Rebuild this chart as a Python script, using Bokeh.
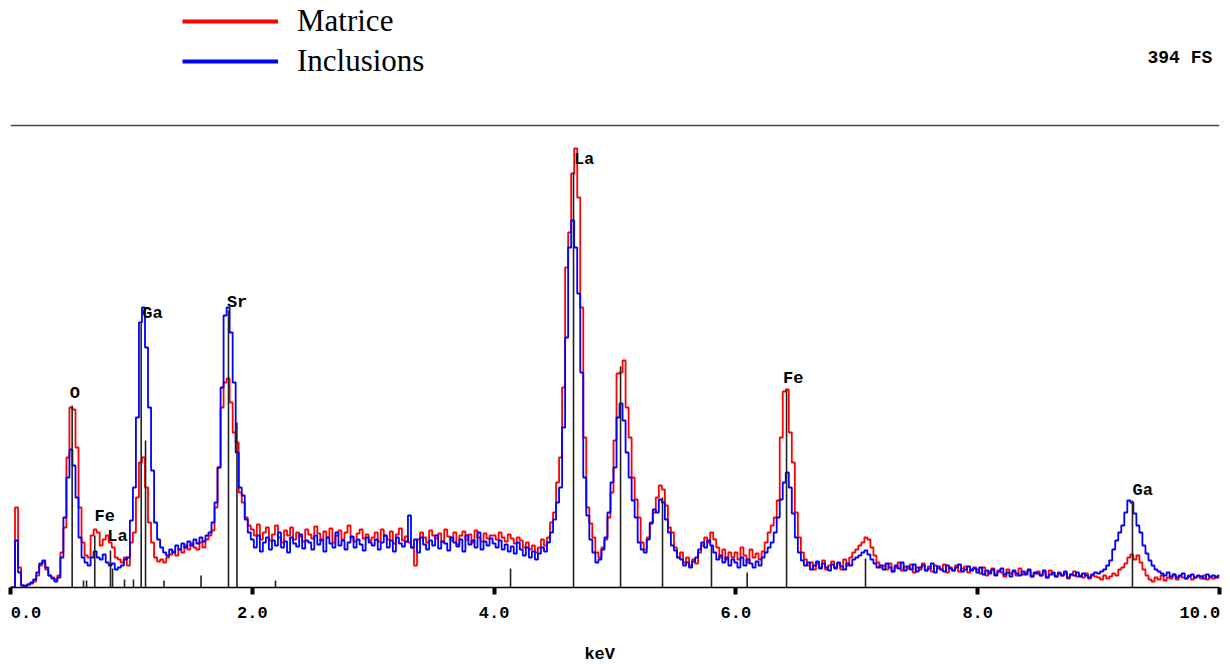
import numpy as np
from bokeh.plotting import figure
from bokeh.models import (Legend, LegendItem, FixedTicker, Label, Range1d, Span)
from bokeh.core.properties import value
from bokeh.embed import file_html
from bokeh.resources import INLINE

# ---------------- data ----------------
channel_width_kev = 0.025
energy_kev = np.round(np.arange(401) * channel_width_kev, 3)   # 0.0 ... 10.0 keV

matrice_counts = [
    0, 0, 80, 20, 2, 2, 3, 4, 6, 12, 22, 25, 18, 12, 10, 8, 12, 35, 60, 130,
    180, 178, 140, 80, 45, 32, 30, 52, 58, 55, 42, 48, 52, 45, 40, 30, 28, 25, 30, 22,
    45, 55, 90, 125, 130, 100, 65, 45, 30, 26, 28, 25, 30, 33, 36, 32, 38, 35, 42, 38,
    44, 40, 38, 45, 40, 48, 52, 57, 80, 120, 180, 205, 209, 185, 155, 145, 95, 85, 70, 62,
    58, 52, 63, 48, 55, 60, 47, 53, 62, 50, 45, 57, 52, 60, 48, 55, 51, 46, 58, 53,
    49, 61, 54, 47, 56, 50, 59, 45, 52, 57, 48, 55, 62, 50, 46, 54, 58, 49, 53, 47,
    50, 55, 46, 58, 52, 48, 56, 44, 53, 59, 47, 51, 45, 40, 22, 48, 55, 50, 45, 57,
    52, 49, 54, 46, 58, 51, 47, 55, 43, 52, 56, 48, 53, 45, 57, 50, 46, 54, 49, 52,
    52, 48, 55, 50, 46, 53, 49, 44, 50, 47, 40, 45, 38, 42, 35, 40, 48, 42, 50, 65,
    75, 105, 130, 200, 320, 355, 414, 439, 390, 280, 150, 80, 64, 50, 35, 30, 40, 48, 70, 95,
    147, 214, 215, 227, 180, 150, 110, 88, 70, 45, 38, 50, 65, 75, 90, 102, 98, 82, 60, 55,
    40, 30, 35, 25, 30, 22, 28, 24, 35, 42, 50, 45, 55, 48, 40, 30, 38, 28, 35, 30,
    35, 28, 40, 32, 25, 38, 30, 34, 28, 36, 45, 55, 62, 70, 87, 150, 196, 198, 155, 125,
    75, 50, 35, 28, 22, 25, 18, 24, 20, 27, 18, 22, 26, 20, 24, 18, 28, 22, 30, 35,
    38, 42, 45, 50, 48, 40, 32, 25, 20, 22, 18, 24, 16, 20, 25, 17, 21, 19, 23, 15,
    20, 18, 24, 17, 21, 16, 22, 19, 18, 23, 15, 20, 17, 22, 16, 19, 21, 15, 18, 20,
    18, 14, 20, 12, 16, 19, 13, 17, 15, 11, 18, 14, 16, 12, 19, 13, 15, 17, 11, 14,
    16, 12, 15, 10, 17, 13, 11, 15, 12, 14, 9, 13, 16, 11, 12, 10, 14, 9, 12, 11,
    10, 8, 12, 9, 11, 14, 12, 18, 20, 24, 30, 33, 28, 32, 25, 18, 12, 8, 6, 10,
    8, 12, 7, 10, 9, 13, 8, 11, 10, 9, 12, 8, 10, 11, 9, 12, 8, 10, 9, 11,
    10,
]

inclusions_counts = [
    0, 0, 47, 15, 2, 1, 3, 5, 8, 15, 24, 27, 20, 12, 9, 6, 10, 30, 70, 110,
    138, 122, 90, 50, 30, 25, 22, 30, 36, 30, 28, 33, 25, 22, 24, 18, 20, 22, 28, 30,
    67, 100, 170, 265, 280, 240, 180, 117, 65, 48, 40, 35, 32, 38, 35, 42, 38, 44, 40, 46,
    42, 48, 44, 50, 46, 52, 55, 65, 85, 120, 200, 272, 280, 255, 205, 135, 100, 92, 68, 55,
    48, 40, 52, 36, 45, 50, 38, 47, 42, 55, 40, 46, 35, 50, 44, 41, 53, 39, 47, 45,
    38, 52, 43, 48, 36, 50, 44, 40, 55, 42, 47, 38, 45, 51, 40, 48, 43, 37, 50, 45,
    42, 48, 38, 45, 52, 40, 47, 36, 50, 44, 41, 46, 72, 40, 48, 35, 50, 43, 38, 47,
    42, 52, 39, 46, 44, 37, 50, 45, 41, 48, 36, 52, 43, 47, 40, 55, 38, 46, 42, 49,
    44, 40, 47, 38, 43, 36, 41, 34, 45, 38, 32, 40, 30, 36, 28, 34, 40, 36, 45, 55,
    68, 85, 100, 160, 250, 340, 367, 340, 294, 215, 110, 72, 48, 35, 25, 28, 38, 50, 75, 105,
    120, 170, 184, 167, 135, 110, 87, 70, 45, 38, 35, 48, 64, 78, 75, 88, 85, 68, 55, 42,
    37, 30, 28, 22, 25, 20, 26, 30, 38, 45, 40, 47, 42, 35, 28, 32, 25, 30, 22, 28,
    25, 20, 30, 22, 28, 24, 20, 26, 22, 30, 35, 40, 45, 55, 70, 88, 105, 115, 100, 74,
    50, 35, 27, 22, 25, 18, 22, 26, 19, 24, 20, 17, 23, 19, 25, 21, 18, 24, 22, 28,
    30, 32, 35, 37, 33, 28, 24, 20, 22, 18, 24, 20, 16, 22, 19, 25, 17, 21, 18, 23,
    16, 20, 22, 17, 19, 24, 15, 21, 18, 16, 22, 19, 17, 20, 23, 16, 18, 21, 17, 19,
    15, 20, 13, 17, 14, 18, 12, 16, 19, 13, 15, 11, 17, 14, 12, 16, 13, 18, 11, 15,
    14, 12, 17, 10, 13, 15, 11, 14, 12, 16, 10, 13, 12, 15, 11, 14, 12, 10, 13, 15,
    14, 16, 18, 22, 27, 38, 47, 55, 62, 75, 87, 85, 74, 62, 55, 42, 34, 27, 22, 18,
    16, 14, 12, 15, 11, 13, 10, 12, 14, 9, 11, 13, 10, 12, 11, 9, 13, 11, 12, 10,
    12,
]

# element marker lines (keV, height)
marker_kev = [0.510, 0.604, 0.629, 0.697, 0.827, 0.844, 0.943, 1.017, 1.081, 1.117,
              1.270, 1.576, 1.803, 1.873, 2.192, 4.136, 4.657, 5.046, 5.393, 5.798,
              6.093, 6.419, 7.072, 9.280]
marker_height = [182, 7, 7, 52, 37, 19, 8, 8, 264, 147,
                 7, 12, 277, 165, 7, 19, 415, 221, 90, 42,
                 15, 198, 29, 87]

# element labels
element_labels = ["O", "Fe", "La", "Ga", "Sr", "La", "Fe", "Ga"]
element_label_kev = [0.49, 0.695, 0.80, 1.09, 1.79, 4.66, 6.39, 9.28]
element_label_height = [194, 71, 51, 274, 285, 428, 209, 97]

tick_kev = [0, 2, 4, 6, 8, 10]
tick_labels = ["0.0", "2.0", "4.0", "6.0", "8.0", "10.0"]

series_names = ["Matrice", "Inclusions"]
full_scale_text = "394 FS"
full_scale_height = 530      # position of the "394 FS" readout
header_line_height = 462     # top rule of the spectrum window

# ---------------- figure ----------------
p = figure(frame_width=1209, frame_height=587,
           x_range=Range1d(0, 10), y_range=Range1d(0, 587),
           output_backend="svg", toolbar_location=None,
           y_axis_location=None,
           min_border_left=10, min_border_right=11,
           min_border_top=0, min_border_bottom=0)
p.grid.visible = False
p.outline_line_color = None
p.background_fill_color = "white"
p.border_fill_color = "white"

mono = value("Liberation Mono")

xa = p.xaxis[0]
xa.ticker = FixedTicker(ticks=tick_kev)
overrides = {t: lab for t, lab in zip(tick_kev, tick_labels)}
overrides[tick_kev[0]] = "\u00a0" + tick_labels[0]
overrides[tick_kev[-1]] = tick_labels[-1] + "\u00a0"
xa.major_label_overrides = overrides
xa.axis_line_color = "black"
xa.axis_line_width = 1.5
xa.major_tick_in = 0
xa.major_tick_out = 7
xa.major_tick_line_width = 4
xa.major_tick_line_color = "black"
xa.minor_tick_out = 0
xa.minor_tick_in = 0
xa.major_label_text_font = "Liberation Mono"
xa.major_label_text_font_style = "bold"
xa.major_label_text_font_size = "17px"
xa.major_label_text_color = "black"
xa.major_label_standoff = 9
xa.axis_label = "keV\u00a0\u00a0\u00a0"
xa.axis_label_text_font = "Liberation Mono"
xa.axis_label_text_font_style = "bold"
xa.axis_label_text_font_size = "17px"
xa.axis_label_text_color = "black"
xa.axis_label_standoff = 19

p.add_layout(Span(location=header_line_height, dimension="width",
                  line_color="#444444", line_width=1.5))

red = p.step(energy_kev, matrice_counts, mode="center", color="#ff0000", line_width=1.8)
blue = p.step(energy_kev, inclusions_counts, mode="center", color="#0000ff", line_width=1.8)

p.segment(x0=marker_kev, y0=[0] * len(marker_kev), x1=marker_kev, y1=marker_height,
          color="#222222", line_width=1.6)

p.text(x=element_label_kev, y=element_label_height, text=element_labels,
       text_font=mono, text_font_style="bold", text_font_size="17px",
       text_align="left", text_baseline="middle", text_color="black")

p.add_layout(Label(x=9.94, y=full_scale_height, text=full_scale_text, text_align="right",
                   text_baseline="middle", text_font="Liberation Mono",
                   text_font_style="bold", text_font_size="18px", text_color="black"))

leg_red = p.line(x=[np.nan], y=[np.nan], color="#ff0000", line_width=4)
leg_blue = p.line(x=[np.nan], y=[np.nan], color="#0000ff", line_width=4)
legend = Legend(items=[LegendItem(label=series_names[0], renderers=[leg_red]),
                       LegendItem(label=series_names[1], renderers=[leg_blue])],
                location=(172, 508), orientation="vertical",
                glyph_width=96, glyph_height=30, label_height=30,
                label_text_font="Liberation Serif", label_text_font_size="31px",
                label_text_color="black",
                label_standoff=19, spacing=4, padding=0, margin=0,
                border_line_color=None, background_fill_alpha=0)
p.add_layout(legend, "center")

open("out.html", "w").write(file_html(p, INLINE))
